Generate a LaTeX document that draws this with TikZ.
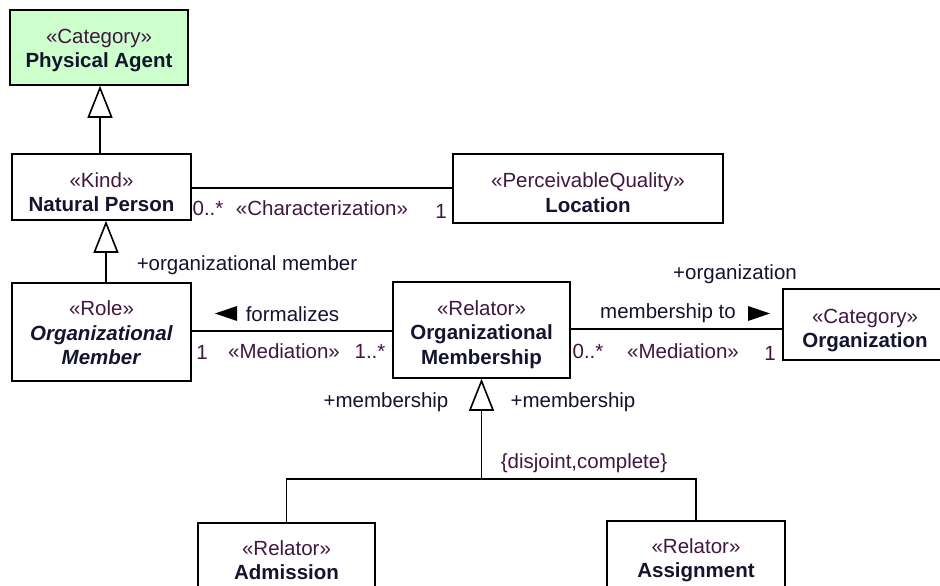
\documentclass[tikz,border=0pt]{standalone}
\usepackage{fontspec}
\setmainfont{Liberation Sans}
\usetikzlibrary{arrows.meta}
\definecolor{nm}{HTML}{14142E}
\definecolor{st}{HTML}{401840}
\definecolor{pagreen}{HTML}{CCFFCC}
\newcommand\stereo[1]{\textcolor{st}{«#1»}}
\tikzset{
  cls/.style={draw=black, line width=1.6pt, fill=white, rectangle, inner sep=0pt},
  txt/.style={inner sep=0pt, align=center, text=nm, font=\fontsize{20.5}{24.5}\selectfont},
  lbl/.style={inner sep=0pt, text=nm, font=\fontsize{20.5}{24.5}\selectfont},
  mul/.style={inner sep=0pt, text=st, font=\fontsize{20.5}{24.5}\selectfont},
  conn/.style={draw=black, line width=1.6pt},
  gen/.style={conn, -{Triangle[open, length=32pt, width=25pt, line width=1.6pt]}},
  dirtri/.style={fill=black}
}
\begin{document}
\begin{tikzpicture}[x=1pt, y=-1pt]
\path[use as bounding box, fill=white] (0,0) rectangle (940,586);
\clip (0,0) rectangle (940,586);

% classes
\node[cls, fill=pagreen, minimum width=178pt, minimum height=75pt] (pa) at (99,47.5) {};
\node[txt] (pat) at (99,50.5) {\stereo{Category}\\\textbf{Physical Agent}};

\node[cls, minimum width=179pt, minimum height=66pt] (np) at (101.5,187) {};
\node[txt] (npt) at (101.5,192) {\stereo{Kind}\\\textbf{Natural Person}};

\node[cls, minimum width=270pt, minimum height=69pt] (loc) at (588,188.5) {};
\node[txt] (loct) at (588,192.5) {\stereo{PerceivableQuality}\\\textbf{Location}};

\node[cls, minimum width=179pt, minimum height=98pt] (om) at (101.5,332) {};
\node[txt] (omt) at (101.5,333) {\stereo{Role}\\\textbf{\itshape Organizational}\\\textbf{\itshape Member}};

\node[cls, minimum width=177pt, minimum height=96pt] (oms) at (481.5,330) {};
\node[txt] (omst) at (481.5,334.5) {\stereo{Relator}\\\textbf{Organizational}\\\textbf{Membership}};

\node[cls, minimum width=164pt, minimum height=71pt] (org) at (865,324.5) {};
\node[txt] (orgt) at (865,330.5) {\stereo{Category}\\\textbf{Organization}};

\node[cls, anchor=north, minimum width=177pt, minimum height=100pt] (adm) at (286.5,522) {};
\node[txt] (admt) at (286.5,560) {\stereo{Relator}\\\textbf{Admission}};

\node[cls, anchor=north, minimum width=178pt, minimum height=100pt] (asg) at (696,520) {};
\node[txt] (asgt) at (696,560) {\stereo{Relator}\\\textbf{Assignment}};

% generalizations
\draw[gen] (np.north -| 100,0) -- (pa.south -| 100,0);
\draw[gen] (om.north -| 106,0) -- (np.south -| 106,0);

\coordinate (j) at (481.5,479);
\draw[conn] (adm.north) |- (j) -| (asg.north);
\draw[gen] (j) -- (oms.south);

% associations
\draw[conn] (np.east |- 0,188) -- (loc.west |- 0,188);
\draw[conn] (om.east |- 0,331) -- (oms.west |- 0,331);
\draw[conn] (oms.east |- 0,329) -- (org.west |- 0,329);

% labels
\node[mul] (m1) at (208,208) {0..*};
\node[mul] (s1) at (322,208) {«Characterization»};
\node[mul] (m2) at (441,211) {1};

\node[lbl] (r1) at (247,265) {+organizational member};

\fill[dirtri] (215,313.5) -- (237,306) -- (237,321) -- cycle;
\node[lbl] (f1) at (292.5,314) {formalizes};
\node[mul] (m3) at (202,352) {1};
\node[mul] (s2) at (284,351) {«Mediation»};
\node[mul] (m4) at (370,351) {1..*};

\node[lbl] (r2) at (735,274) {+organization};
\node[lbl] (f2) at (668,313) {membership to};
\fill[dirtri] (770,313.5) -- (748,306) -- (748,321) -- cycle;
\node[mul] (m5) at (588,351) {0..*};
\node[mul] (s3) at (683,351) {«Mediation»};
\node[mul] (m6) at (770,353) {1};

\node[lbl] (r3) at (386,402) {+membership};
\node[lbl] (r4) at (573,402) {+membership};
\node[mul] (c1) at (584,463) {\{disjoint,complete\}};
\end{tikzpicture}
\end{document}
